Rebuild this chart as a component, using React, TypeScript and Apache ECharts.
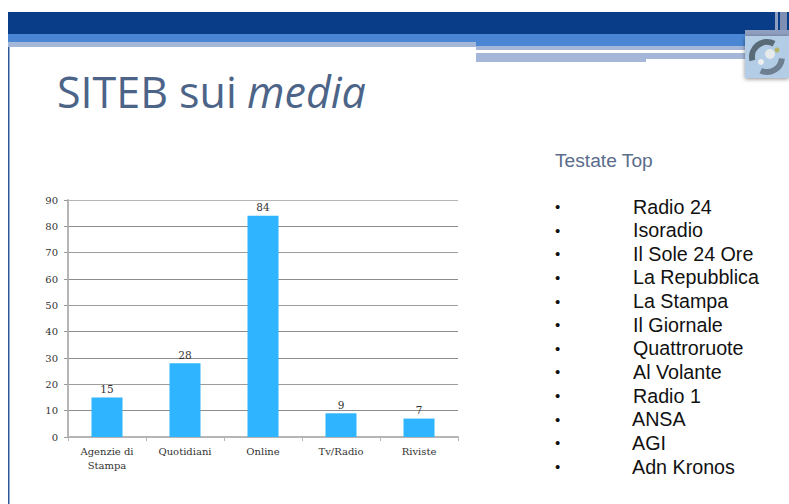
import React, { useEffect, useRef } from "react";
import * as echarts from "echarts";

const categories = ["Agenzie di\nStampa", "Quotidiani", "Online", "Tv/Radio", "Riviste"];
const values = [15, 28, 84, 9, 7];
const yTicks = { min: 0, max: 90, interval: 10 };
const titleMain = "SITEB sui ";
const titleItalic = "media";
const sideHeading = "Testate Top";
const outlets = ["Radio 24", "Isoradio", "Il Sole 24 Ore", "La Repubblica", "La Stampa", "Il Giornale", "Quattroruote", "Al Volante", "Radio 1", "ANSA", "AGI", "Adn Kronos"];

const rect = (x: number, y: number, w: number, h: number, fill: string, extra: any = {}) => ({
  type: "rect", shape: { x, y, width: w, height: h }, style: { fill, ...extra }, silent: true,
});

export default function App() {
  const ref = useRef<HTMLDivElement>(null);
  useEffect(() => {
    const chart = echarts.init(ref.current!, null, { renderer: "svg" });
    const serif = "'DejaVu Serif', 'Liberation Serif', serif";
    const sans = "'Liberation Sans', Arial, sans-serif";
    const listItems: any[] = [];
    outlets.forEach((name, i) => {
      const y = 206.5 + i * 23.64;
      listItems.push({ type: "text", x: 555, y, style: { text: "•", font: `15px ${sans}`, fill: "#111", textVerticalAlign: "middle" } });
      listItems.push({ type: "text", x: i >= 9 ? 632 : 633, y, style: { text: name, font: `19.7px ${sans}`, fill: "#111", textVerticalAlign: "middle" } });
    });
    const gridColors = ["#b5b5b5", "#8c8c8c", "#9c9c9c", "#8c8c8c", "#8c8c8c", "#9c9c9c", "#8c8c8c", "#9c9c9c", "#8c8c8c", "#b5b5b5"];
    chart.setOption({
      animation: false,
      backgroundColor: "#ffffff",
      grid: { left: 68, top: 200, width: 390, height: 237, containLabel: false },
      xAxis: {
        type: "category",
        data: categories,
        axisLine: { lineStyle: { color: "#b5b5b5", width: 2 } },
        axisTick: { show: true, alignWithLabel: false, length: 4, lineStyle: { color: "#b5b5b5", width: 1 } },
        axisLabel: { color: "#333", fontFamily: serif, fontSize: 10, margin: 7, lineHeight: 14, interval: 0 },
      },
      yAxis: {
        type: "value",
        min: yTicks.min,
        max: yTicks.max,
        interval: yTicks.interval,
        axisLine: { show: true, lineStyle: { color: "#b5b5b5", width: 2 } },
        axisTick: { show: true, length: 4, lineStyle: { color: "#999", width: 1 } },
        axisLabel: { color: "#333", fontFamily: serif, fontSize: 10, margin: 10 },
        splitLine: { show: true, lineStyle: { color: gridColors, width: 1 } },
      },
      series: [
        {
          type: "bar",
          data: values,
          barWidth: 31,
          itemStyle: { color: "#2fb4ff" },
          label: { show: true, position: "top", distance: 3, color: "#333", fontFamily: serif, fontSize: 10.5 },
        },
      ],
      graphic: [
        {
          type: "group",
          silent: true,
          children: [
            rect(8, 12, 1.5, 492, "#2a5a9c"),
            rect(8, 12, 781, 22, "#0a3d87"),
            rect(8, 34, 737, 12, "#4a86d4"),
            rect(8, 42, 468, 5, "#a5b7d8"),
            rect(476, 46, 269, 4, "#a5b7d8"),
            rect(476, 50, 269, 3, "#ffffff"),
            rect(476, 53, 269, 6, "#a5b7d8"),
            rect(476, 59, 170, 3, "#a5b7d8"),
            rect(775, 12, 3, 22, "#8f9fc0"),
            rect(780, 12, 7, 22, "#7f8fb4"),
            rect(745, 30, 44, 6, "#8f9fc0"),
            rect(745, 36, 44, 42, "#b3cde6", { shadowBlur: 4, shadowColor: "rgba(0,0,0,0.45)", shadowOffsetY: 1 }),
            { type: "arc", shape: { cx: 767, cy: 57, r: 15, startAngle: 2.9, endAngle: 5.2 }, style: { stroke: "#5a6b78", lineWidth: 6, fill: "none" } },
            { type: "arc", shape: { cx: 767, cy: 57, r: 15, startAngle: 0.1, endAngle: 2.0 }, style: { stroke: "#6d7f90", lineWidth: 6, fill: "none" } },
            { type: "circle", shape: { cx: 770, cy: 54, r: 5 }, style: { fill: "#e6eaea" } },
            { type: "circle", shape: { cx: 777, cy: 50, r: 2.5 }, style: { fill: "#b5b56a" } },
            { type: "circle", shape: { cx: 761, cy: 62, r: 3 }, style: { fill: "#eef0f0" } },
          ],
        },
        { type: "text", x: 57, y: 91, style: { text: titleMain, font: "43px 'Open Sans', sans-serif", fill: "#4c6488", textVerticalAlign: "middle" } },
        { type: "text", x: 247, y: 91, style: { text: titleItalic, font: "italic 43px 'Open Sans', sans-serif", fill: "#4c6488", textVerticalAlign: "middle" } },
        { type: "text", x: 555, y: 160, style: { text: sideHeading, font: `19.2px ${sans}`, fill: "#5a6d8c", textVerticalAlign: "middle" } },
        ...listItems,
      ],
    });
    return () => chart.dispose();
  }, []);
  return <div ref={ref} style={{ position: "fixed", left: 0, top: 0, width: 789, height: 504 }} />;
}
